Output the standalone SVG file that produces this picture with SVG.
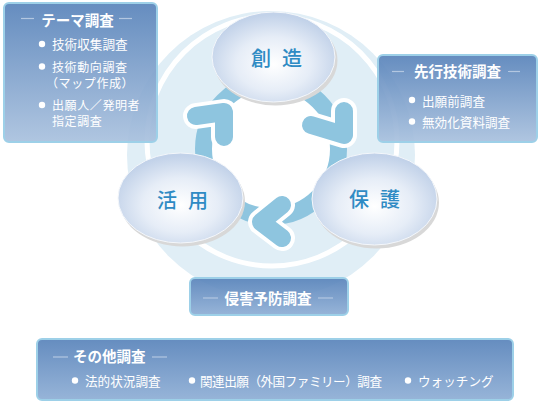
<svg xmlns="http://www.w3.org/2000/svg" width="540" height="402" viewBox="0 0 540 402">
<defs>
<linearGradient id="boxg" x1="0" y1="0" x2="0" y2="1">
<stop offset="0" stop-color="#5883ba"/>
<stop offset="1" stop-color="#a9c1de"/>
</linearGradient>
<linearGradient id="boxs" x1="0" y1="0" x2="0" y2="1">
<stop offset="0" stop-color="#5883ba"/>
<stop offset="1" stop-color="#8eaed5"/>
</linearGradient>
<radialGradient id="ellg" cx="0.5" cy="0.58" r="0.55">
<stop offset="0" stop-color="#ffffff"/>
<stop offset="0.55" stop-color="#e6edf7"/>
<stop offset="1" stop-color="#c2d2e9"/>
</radialGradient>
<style>
.box{stroke:#9dd0e8;stroke-width:2;fill-opacity:0.92}
.ttl{font-family:"Noto Sans CJK JP","Noto Sans",sans-serif;font-weight:700;font-size:14.5px;fill:#ffffff}
.itm{font-family:"Noto Sans CJK JP","Noto Sans",sans-serif;font-size:12.6px;fill:#ffffff}
.itm2{font-family:"Noto Sans CJK JP","Noto Sans",sans-serif;font-size:12px;letter-spacing:0.6px;fill:#ffffff}
.dash{stroke:#b3c7e1;stroke-width:1.2}
.dot{fill:#ffffff}
.shadow{fill:#d8d8d8}
.ell{fill:url(#ellg);stroke:#f4f7fb;stroke-width:1}
.lbl{font-family:"Noto Sans CJK JP","Noto Sans",sans-serif;font-weight:500;font-size:20px;fill:#2f8bc4;letter-spacing:11px}
.chw{fill:none;stroke:#ffffff;stroke-width:26;stroke-linecap:round;stroke-linejoin:round}
.chb{fill:none;stroke:#8ec5df;stroke-width:18;stroke-linecap:round;stroke-linejoin:round}
</style>
</defs>
<rect width="540" height="402" fill="#ffffff"/>
<g id="background">
<circle cx="271" cy="155" r="144" fill="#e0eef6"/>
<circle cx="272" cy="141" r="125" fill="none" stroke="#ffffff" stroke-width="5"/>
</g>
<g id="connectors">
<circle cx="271" cy="149" r="67.5" fill="#ffffff" stroke="#8ec5df" stroke-width="17"/>
<polyline class="chw" points="196,116 224,112 224,137"/>
<polyline class="chb" points="196,116 224,112 224,137"/>
<polyline class="chw" points="311,125 344,135 344,111"/>
<polyline class="chb" points="311,125 344,135 344,111"/>
<polyline class="chw" points="282,205 261,222 282,238"/>
<polyline class="chb" points="282,205 261,222 282,238"/>
</g>
<g id="node-souzou">
<ellipse class="shadow" cx="275.5" cy="60.5" rx="62" ry="45"/>
<ellipse class="ell" cx="273.5" cy="57" rx="61.5" ry="45"/>
<text class="lbl" x="251" y="65.5">創造</text>
</g>
<g id="node-hogo">
<ellipse class="shadow" cx="376.5" cy="202.5" rx="62.5" ry="46"/>
<ellipse class="ell" cx="374.5" cy="199" rx="62.5" ry="46"/>
<text class="lbl" x="349" y="206.5">保護</text>
</g>
<g id="node-katsuyou">
<ellipse class="shadow" cx="182.5" cy="201.5" rx="62.5" ry="45"/>
<ellipse class="ell" cx="180.5" cy="198" rx="62.5" ry="45"/>
<text class="lbl" x="157" y="207.5">活用</text>
</g>
<g id="box-theme">
<rect class="box" x="4" y="3" width="153" height="139" rx="5" fill="url(#boxg)"/>
<line class="dash" x1="21" y1="18.5" x2="34" y2="18.5"/>
<line class="dash" x1="119" y1="18.5" x2="132" y2="18.5"/>
<text class="ttl" x="77.5" y="25.5" text-anchor="middle">テーマ調査</text>
<circle class="dot" cx="42" cy="44" r="3.2"/>
<text class="itm" x="52" y="49">技術収集調査</text>
<circle class="dot" cx="42" cy="66.5" r="3.2"/>
<text class="itm2" x="52" y="72">技術動向調査</text>
<text class="itm2" x="46" y="87.5" font-size="11px" letter-spacing="0.3px">（マップ作成）</text>
<circle class="dot" cx="42" cy="105" r="3.2"/>
<text class="itm2" x="52" y="110">出願人／発明者</text>
<text class="itm2" x="52" y="126">指定調査</text>
</g>
<g id="box-senkou">
<rect class="box" x="378" y="55" width="159" height="87" rx="5" fill="url(#boxg)"/>
<line class="dash" x1="392" y1="71.5" x2="404" y2="71.5"/>
<line class="dash" x1="508" y1="71.5" x2="520" y2="71.5"/>
<text class="ttl" x="457.5" y="77" text-anchor="middle">先行技術調査</text>
<circle class="dot" cx="412" cy="100" r="3.2"/>
<text class="itm" x="422" y="105.5">出願前調査</text>
<circle class="dot" cx="412" cy="121.5" r="3.2"/>
<text class="itm" x="422" y="127">無効化資料調査</text>
</g>
<g id="box-shingai">
<rect class="box" x="190" y="278" width="158" height="37" rx="5" fill="url(#boxs)"/>
<line class="dash" x1="203" y1="298" x2="218" y2="298"/>
<line class="dash" x1="318" y1="298" x2="333" y2="298"/>
<text class="ttl" x="268" y="304" text-anchor="middle">侵害予防調査</text>
</g>
<g id="box-sonota">
<rect class="box" x="37" y="339" width="476" height="61" rx="5" fill="url(#boxs)" fill-opacity="1"/>
<line class="dash" x1="53" y1="357" x2="68" y2="357"/>
<line class="dash" x1="152" y1="357" x2="167" y2="357"/>
<text class="ttl" x="73" y="362">その他調査</text>
<circle class="dot" cx="75" cy="380.5" r="3.2"/>
<text class="itm" x="85" y="385.5">法的状況調査</text>
<circle class="dot" cx="192" cy="380.5" r="3.2"/>
<text class="itm" x="200" y="385.5" textLength="182" lengthAdjust="spacing">関連出願（外国ファミリー）調査</text>
<circle class="dot" cx="408" cy="380.5" r="3.2"/>
<text class="itm" x="418" y="385.5">ウォッチング</text>
</g>
</svg>
